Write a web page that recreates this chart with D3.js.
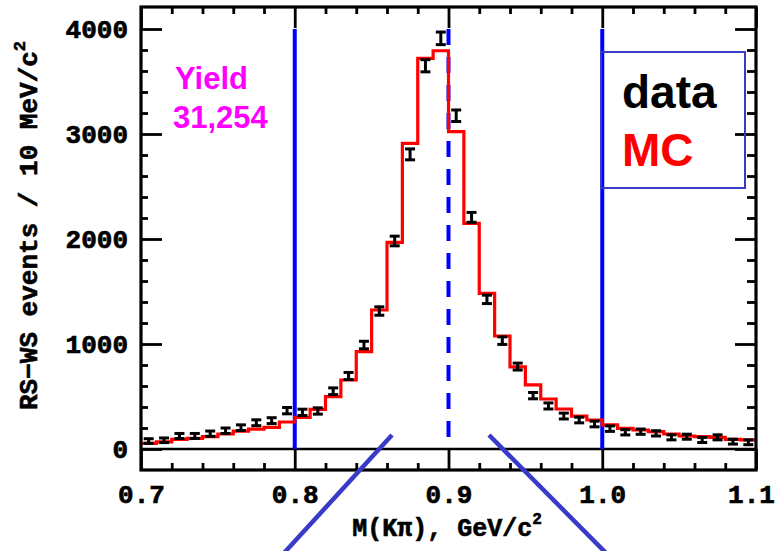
<!DOCTYPE html>
<html><head><meta charset="utf-8">
<script src="https://cdn.jsdelivr.net/npm/d3@7"></script>
<style>body{margin:0;background:#fff} svg{display:block}</style>
</head><body>
<svg id="c" width="777" height="551"></svg>
<script>
// ---- data ----
const binLow = [0.70,0.71,0.72,0.73,0.74,0.75,0.76,0.77,0.78,0.79,
                0.80,0.81,0.82,0.83,0.84,0.85,0.86,0.87,0.88,0.89,
                0.90,0.91,0.92,0.93,0.94,0.95,0.96,0.97,0.98,0.99,
                1.00,1.01,1.02,1.03,1.04,1.05,1.06,1.07,1.08,1.09];
const binWidth = 0.01;
const dataCounts = [76,83,124,124,146,174,203,250,270,365,
                    349,362,550,695,990,1314,1981,2806,3650,3911,
                    3174,2206,1425,1032,785,508,410,314,276,238,
                    194,159,165,149,111,117,86,111,70,64];
const dataErrors = [22,22,24,24,25,26,27,28,28,30,
                    30,30,32,34,36,40,46,52,58,60,
                    55,47,40,36,33,30,29,28,27,27,
                    26,25,25,25,24,24,24,24,23,23];
const mcCounts = [54,67,92,102,117,143,171,190,206,257,
                  302,378,498,657,927,1324,1968,2911,3721,3793,
                  3022,2149,1483,1076,782,610,476,381,314,276,
                  229,197,181,165,143,124,117,111,92,86];
const xMajorTicks = [0.7,0.8,0.9,1.0,1.1];
const xTickLabels = ["0.7","0.8","0.9","1.0","1.1"];
const xMinorTicks = [0.72,0.74,0.76,0.78,0.82,0.84,0.86,0.88,0.92,0.94,0.96,0.98,1.02,1.04,1.06,1.08];
const yMajorTicks = [0,1000,2000,3000,4000];
const yMinorTicks = [200,400,600,800,1200,1400,1600,1800,2200,2400,2600,2800,3200,3400,3600,3800];
const windowEdges = [0.8, 1.0];
const centralMass = 0.9;
const markerTop = 4000;
const yieldLines = ["Yield", "31,254"];
const legendItems = [{label:"data", color:"#000000"}, {label:"MC", color:"#ff0000"}];

// ---- layout ----
const svg = d3.select("#c");
const L = 141, R = 756, T = 7, B = 470;
const x = d3.scaleLinear().domain([0.7, 1.1]).range([L, R]);
const y = d3.scaleLinear().domain([0, 4000]).range([449, 29]);
const axisFont = "'Liberation Mono', 'Courier New', monospace";

// zero line
svg.append("line").attr("x1", L).attr("x2", R).attr("y1", y(0)).attr("y2", y(0))
  .attr("stroke", "#000").attr("stroke-width", 2.5);

// blue window lines
svg.selectAll("line.win").data(windowEdges).join("line").attr("class","win")
  .attr("x1", d => x(d)).attr("x2", d => x(d))
  .attr("y1", y(markerTop)).attr("y2", y(0))
  .attr("stroke", "#0000ff").attr("stroke-width", 4);
svg.append("line")
  .attr("x1", x(centralMass)).attr("x2", x(centralMass))
  .attr("y1", y(markerTop)).attr("y2", y(0))
  .attr("stroke", "#0000ff").attr("stroke-width", 4)
  .attr("stroke-dasharray", "16,12");

// MC histogram
const stepPts = binLow.map((b, i) => [b, mcCounts[i]]);
stepPts.push([binLow[binLow.length-1] + binWidth, mcCounts[mcCounts.length-1]]);
svg.append("path")
  .attr("d", d3.line().x(d => x(d[0])).y(d => y(d[1])).curve(d3.curveStepAfter)(stepPts))
  .attr("fill", "none").attr("stroke", "#ff0000").attr("stroke-width", 3.2)
  .attr("stroke-linejoin", "miter");

// data error bars
const pts = binLow.map((b, i) => ({x: b + binWidth/2, v: dataCounts[i], e: dataErrors[i]}));
const eb = svg.append("g").attr("stroke", "#000").attr("stroke-width", 3);
eb.selectAll("line.stem").data(pts).join("line").attr("class","stem")
  .attr("x1", d => x(d.x)).attr("x2", d => x(d.x))
  .attr("y1", d => y(d.v + d.e)).attr("y2", d => y(d.v - d.e));
eb.selectAll("line.capt").data(pts).join("line").attr("class","capt")
  .attr("x1", d => x(d.x) - 5).attr("x2", d => x(d.x) + 5)
  .attr("y1", d => y(d.v + d.e)).attr("y2", d => y(d.v + d.e));
eb.selectAll("line.capb").data(pts).join("line").attr("class","capb")
  .attr("x1", d => x(d.x) - 5).attr("x2", d => x(d.x) + 5)
  .attr("y1", d => y(d.v - d.e)).attr("y2", d => y(d.v - d.e));

// frame
svg.append("rect").attr("x", L).attr("y", T).attr("width", R - L).attr("height", B - T)
  .attr("fill", "none").attr("stroke", "#000").attr("stroke-width", 3.2);

function styleAxis(g) {
  g.select(".domain").remove();
  g.selectAll(".tick line").attr("stroke", "#000").attr("stroke-width", 2.8);
  g.selectAll(".tick text").attr("font-family", axisFont).attr("font-weight", "bold")
    .attr("font-size", 26).attr("fill", "#000")
    .attr("stroke", "#000").attr("stroke-width", 0.7);
}
// bottom
const xb = svg.append("g").attr("transform", `translate(0,${B})`)
  .call(d3.axisBottom(x).tickValues(xMajorTicks).tickSize(-21).tickPadding(15)
    .tickFormat((d, i) => xTickLabels[i])).call(styleAxis);
xb.selectAll(".tick text").filter((d, i) => i === xMajorTicks.length - 1).attr("dx", -5);
svg.append("g").attr("transform", `translate(0,${B})`)
  .call(d3.axisBottom(x).tickValues(xMinorTicks).tickSize(-7).tickFormat("")).call(styleAxis);
// top
svg.append("g").attr("transform", `translate(0,${T})`)
  .call(d3.axisTop(x).tickValues(xMajorTicks).tickSize(-21).tickFormat("")).call(styleAxis);
svg.append("g").attr("transform", `translate(0,${T})`)
  .call(d3.axisTop(x).tickValues(xMinorTicks).tickSize(-7).tickFormat("")).call(styleAxis);
// left
svg.append("g").attr("transform", `translate(${L},0)`)
  .call(d3.axisLeft(y).tickValues(yMajorTicks).tickSize(-21).tickPadding(13)
    .tickFormat(d3.format("d"))).call(styleAxis);
svg.append("g").attr("transform", `translate(${L},0)`)
  .call(d3.axisLeft(y).tickValues(yMinorTicks).tickSize(-7).tickFormat("")).call(styleAxis);
// right
svg.append("g").attr("transform", `translate(${R},0)`)
  .call(d3.axisRight(y).tickValues(yMajorTicks).tickSize(-21).tickFormat("")).call(styleAxis);
svg.append("g").attr("transform", `translate(${R},0)`)
  .call(d3.axisRight(y).tickValues(yMinorTicks).tickSize(-9).tickFormat("")).call(styleAxis);

// axis titles
const xt = svg.append("text").attr("x", 447).attr("y", 536).attr("text-anchor", "middle")
  .attr("font-family", axisFont).attr("font-weight", "bold").attr("font-size", 25).attr("fill", "#000")
  .attr("stroke", "#000").attr("stroke-width", 0.6);
xt.append("tspan").text("M(Kπ), GeV/c");
xt.append("tspan").attr("font-size", 16).attr("dy", -12).text("2");

const yt = svg.append("text").attr("transform", "translate(37,410) rotate(-90)")
  .attr("font-family", axisFont).attr("font-weight", "bold").attr("font-size", 26).attr("fill", "#000")
  .attr("stroke", "#000").attr("stroke-width", 0.6);
yt.append("tspan").text("RS\u2212WS events / 10 MeV/c");
yt.append("tspan").attr("font-size", 17).attr("dy", -12).text("2");

// diagonal zoom lines
svg.append("line").attr("x1", 392).attr("y1", 435).attr("x2", 284).attr("y2", 553)
  .attr("stroke", "#3a3ac8").attr("stroke-width", 4.5);
svg.append("line").attr("x1", 489).attr("y1", 435).attr("x2", 606).attr("y2", 553)
  .attr("stroke", "#3a3ac8").attr("stroke-width", 4.5);

// yield
svg.selectAll("text.yield").data(yieldLines).join("text").attr("class","yield")
  .attr("x", (d, i) => i === 0 ? 175 : 173).attr("y", (d, i) => 89 + i * 39)
  .attr("font-family", "'Liberation Sans', Arial, sans-serif").attr("font-weight", "bold")
  .attr("font-size", 31).attr("fill", "#ff00ff").text(d => d);

// legend
svg.append("rect").attr("x", 601).attr("y", 52).attr("width", 144).attr("height", 136)
  .attr("fill", "none").attr("stroke", "#3a3ac8").attr("stroke-width", 2);
svg.selectAll("text.leg").data(legendItems).join("text").attr("class","leg")
  .attr("x", 622).attr("y", (d, i) => 108 + i * 58)
  .attr("font-family", "'Liberation Sans', Arial, sans-serif").attr("font-weight", "bold")
  .attr("font-size", 46).attr("fill", d => d.color).text(d => d.label);
</script>
</body></html>
